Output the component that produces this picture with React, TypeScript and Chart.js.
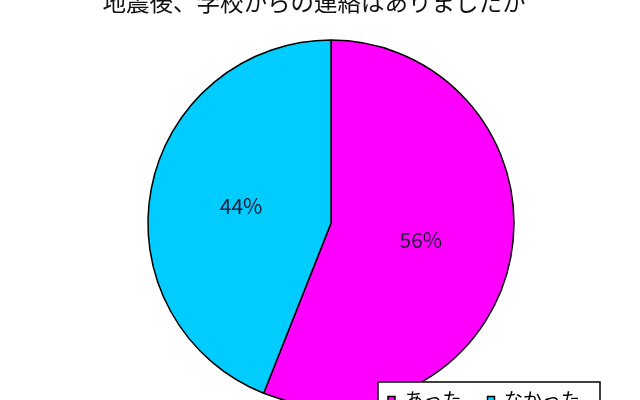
import { useEffect, useRef } from "react"
import { Chart, registerables } from "chart.js"

Chart.register(...registerables)

const chartTitle = "地震後、学校からの連絡はありましたか"
const answers = ["あった", "なかった"]
const shares = [56, 44]
const sliceColors = ["#ff00ff", "#00ccff"]

const FONT = '"Noto Sans CJK JP", "Noto Sans", sans-serif'

// move title / legend to where the original sheet had them
const layoutTweaks = {
  id: "layoutTweaks",
  afterLayout(chart: any) {
    const t = chart.titleBlock
    if (t) {
      t.left -= 17
      t.right -= 17
      t.top -= 2
      t.bottom -= 2
    }
    const lg = chart.legend
    if (lg && lg.lineWidths) {
      const pad = lg.options.labels.padding
      const dx = 377 - (lg.right - lg.lineWidths[0])
      const dy = 410 - (lg.top + pad + 9.5)
      lg.left += dx
      lg.right += dx
      lg.top += dy
      lg.bottom += dy
    }
  },
}

const percentLabels = {
  id: "percentLabels",
  afterDatasetsDraw(chart: any) {
    const ctx = chart.ctx
    const meta = chart.getDatasetMeta(0)
    ctx.save()
    ctx.font = `21px ${FONT}`
    ctx.fillStyle = "#1a1a33"
    ctx.textAlign = "center"
    ctx.textBaseline = "middle"
    meta.data.forEach((arc: any, i: number) => {
      const { x, y } = arc.getCenterPoint()
      ctx.fillText(`${shares[i]}%`, x, y)
    })
    ctx.restore()
  },
}

// white framed legend box drawn over the pie
const legendFrame = {
  id: "legendFrame",
  afterDraw(chart: any) {
    const lg = chart.legend
    if (!lg || !lg.lineWidths) return
    const ctx = chart.ctx
    const pad = lg.options.labels.padding
    const x0 = lg.right - lg.lineWidths[0] - 10
    const x1 = lg.right - pad + 20
    const yc = lg.top + pad + 9.5
    ctx.save()
    ctx.fillStyle = "#fff"
    ctx.strokeStyle = "#000"
    ctx.lineWidth = 1.5
    ctx.fillRect(x0, yc - 18, x1 - x0, 60)
    ctx.strokeRect(x0, yc - 18, x1 - x0, 60)
    ctx.restore()
    lg.draw()
  },
}

export default function App() {
  const canvasRef = useRef<HTMLCanvasElement>(null)
  const chartRef = useRef<Chart | null>(null)

  useEffect(() => {
    if (!canvasRef.current) return
    if (chartRef.current) chartRef.current.destroy()

    chartRef.current = new Chart(canvasRef.current, {
      type: "pie",
      data: {
        labels: answers,
        datasets: [
          {
            data: shares,
            backgroundColor: sliceColors,
            borderColor: "#000",
            borderWidth: 1.5,
            radius: 183,
            clip: false,
          } as any,
        ],
      },
      options: {
        responsive: true,
        maintainAspectRatio: false,
        animation: false,
        events: [],
        layout: { padding: 0 },
        plugins: {
          title: {
            display: true,
            text: chartTitle,
            color: "#111",
            font: { family: FONT, size: 23.5, weight: "normal" },
            padding: { top: 0, bottom: 0 },
          },
          legend: {
            position: "bottom",
            align: "end",
            labels: {
              boxWidth: 7,
              boxHeight: 7,
              padding: 26,
              color: "#000",
              font: { family: FONT, size: 19 },
            },
          },
          tooltip: { enabled: false },
        },
      },
      plugins: [layoutTweaks, percentLabels, legendFrame],
    })

    return () => {
      if (chartRef.current) {
        chartRef.current.destroy()
        chartRef.current = null
      }
    }
  }, [])

  return (
    <div
      style={{
        position: "fixed",
        left: 0,
        top: 0,
        width: 640,
        height: 400,
        overflow: "hidden",
        background: "#fff",
      }}
    >
      <div style={{ position: "absolute", left: 11, top: -10, width: 640, height: 493 }}>
        <canvas ref={canvasRef} />
      </div>
    </div>
  )
}
